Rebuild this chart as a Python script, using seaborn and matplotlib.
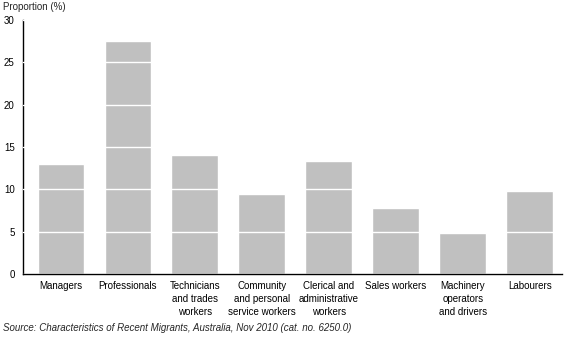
import matplotlib
matplotlib.use("Agg")
import matplotlib.pyplot as plt
import seaborn as sns
import pandas as pd

categories = [
    "Managers",
    "Professionals",
    "Technicians\nand trades\nworkers",
    "Community\nand personal\nservice workers",
    "Clerical and\nadministrative\nworkers",
    "Sales workers",
    "Machinery\noperators\nand drivers",
    "Labourers",
]
proportions = [13.0, 27.5, 14.1, 9.5, 13.3, 7.8, 4.9, 9.8]
y_ticks = [0, 5, 10, 15, 20, 25, 30]

df = pd.DataFrame({"Occupation": categories, "Proportion": proportions})

sns.set_theme(style="white")
plt.rcParams["font.family"] = ["Liberation Sans", "DejaVu Sans"]

fig = plt.figure(figsize=(5.67, 3.40), dpi=100)
ax = fig.add_axes([0.0406, 0.194, 0.950, 0.747])

sns.barplot(data=df, x="Occupation", y="Proportion", color="#c0c0c0",
            saturation=1, width=0.70, ax=ax)

ax.set_ylim(0, 30)
ax.set_xlim(-0.567, len(categories) - 0.522)
ax.set_yticks(y_ticks)
ax.set_yticklabels([str(t) for t in y_ticks], fontsize=7)
ax.set_xticks(range(len(categories)))
ax.set_xticklabels(categories, fontsize=7, linespacing=1.38)
ax.set_xlabel("")
ax.set_ylabel("")

# White horizontal gridlines cut across the bars
ax.set_axisbelow(False)
ax.yaxis.grid(True, color="white", linewidth=1.0)
ax.xaxis.grid(False)

for side in ("top", "right"):
    ax.spines[side].set_visible(False)
for side in ("left", "bottom"):
    ax.spines[side].set_color("black")
    ax.spines[side].set_linewidth(1.0)

ax.tick_params(axis="both", which="major", direction="out", length=4,
               width=1, color="black", labelcolor="black", pad=2)
ax.tick_params(axis="x", pad=1)

fig.text(0.005, 0.979, "Proportion (%)", fontsize=7, ha="left", va="center")
fig.text(0.005, 0.035,
         "Source: Characteristics of Recent Migrants, Australia, Nov 2010 (cat. no. 6250.0)",
         fontsize=7, ha="left", va="center", style="italic")

fig.savefig("out.png", dpi=100)
